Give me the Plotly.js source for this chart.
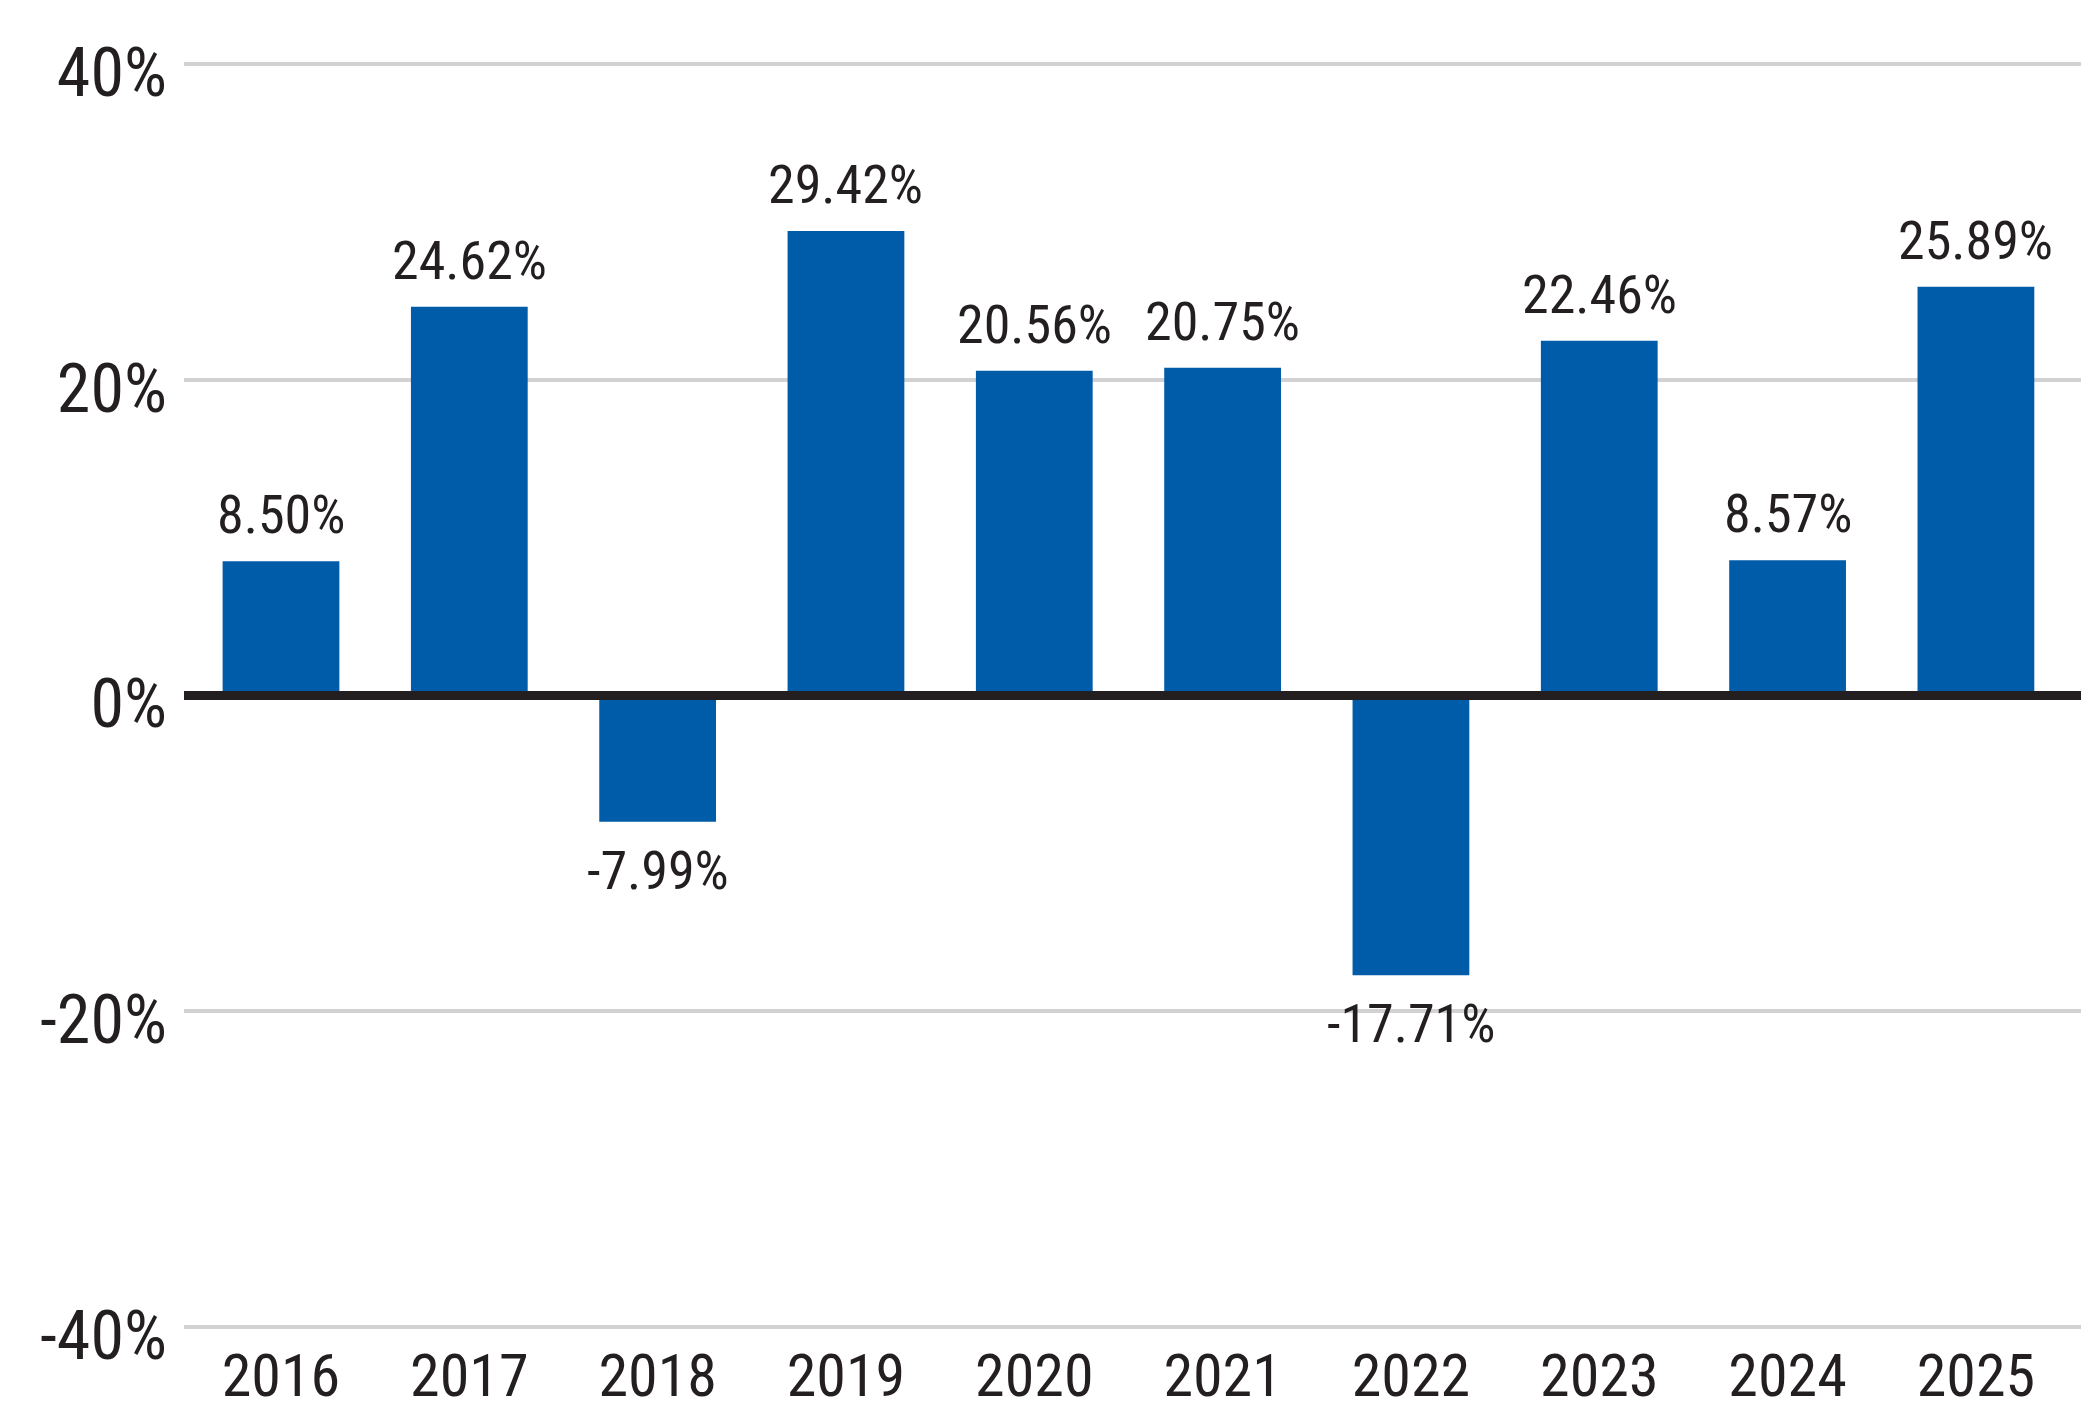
<!DOCTYPE html>
<html>
<head>
<meta charset="utf-8">
<script src="https://cdn.plot.ly/plotly-3.0.1.min.js"></script>
<style>
  html, body { margin: 0; padding: 0; background: #ffffff; }
  #chart { width: 2092px; height: 1417px; }
</style>
</head>
<body>
<div id="chart"></div>
<script>
// yearly returns
const years = ['2016', '2017', '2018', '2019', '2020', '2021', '2022', '2023', '2024', '2025'];
const returns = [8.50, 24.62, -7.99, 29.42, 20.56, 20.75, -17.71, 22.46, 8.57, 25.89];
const yTicks = [-40, -20, 0, 20, 40];
const yTickLabels = ['-40%', '-20%', '0%', '20%', '40%'];

const barColor = '#005ba8';
const textColor = '#231f20';
const gridColor = '#d2d2d2';
const fontFamily = '"Liberation Sans Narrow", "Roboto Condensed", "DejaVu Sans Condensed", sans-serif';

const trace = {
    type: 'bar',
    x: years,
    y: returns,
    marker: { color: barColor, line: { width: 0 } },
    hoverinfo: 'skip'
};

// value labels above / below each bar (x as category index, so '2016' isn't read as a number)
const labels = returns.map((v, i) => ({
    x: i,
    y: v,
    xref: 'x', yref: 'y',
    text: v.toFixed(2) + '%',
    showarrow: false,
    yanchor: v >= 0 ? 'bottom' : 'top',
    yshift: v >= 0 ? 13 : -15,
    font: { family: fontFamily, size: 54, color: textColor }
}));

const layout = {
    width: 2092,
    height: 1417,
    paper_bgcolor: '#ffffff',
    plot_bgcolor: '#ffffff',
    margin: { t: 56, b: 82, l: 184, r: 11, pad: 0 },
    showlegend: false,
    bargap: 0.38,
    font: { family: fontFamily, color: textColor },
    xaxis: {
        type: 'category',
        range: [-0.515, 9.558],
        showgrid: false,
        showline: false,
        zeroline: false,
        ticks: '',
        ticklabelstandoff: 0,
        tickfont: { family: fontFamily, size: 60, color: textColor }
    },
    yaxis: {
        range: [-40.5, 40.5],
        tickvals: yTicks,
        ticktext: yTickLabels,
        showgrid: true,
        gridcolor: gridColor,
        gridwidth: 4,
        zeroline: false,
        showline: false,
        ticks: '',
        ticklabelstandoff: 16,
        ticklabelshift: 8,
        tickfont: { family: fontFamily, size: 68, color: textColor }
    },
    annotations: labels,
    shapes: [{
        type: 'line',
        xref: 'paper', yref: 'y',
        x0: 0, x1: 1, y0: 0, y1: 0,
        layer: 'above',
        line: { color: textColor, width: 9 }
    }]
};

Plotly.newPlot('chart', [trace], layout, { staticPlot: true, displayModeBar: false });
</script>
</body>
</html>
